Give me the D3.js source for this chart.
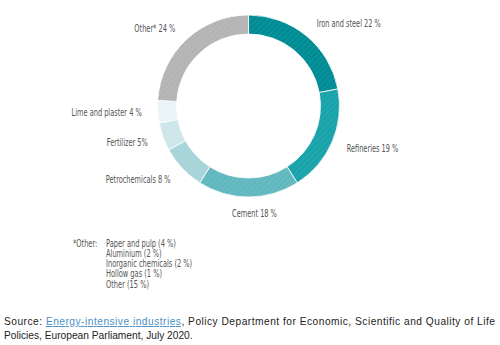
<!DOCTYPE html>
<html><head><meta charset="utf-8">
<script src="https://cdn.jsdelivr.net/npm/d3@7"></script>
<style>
html,body{margin:0;padding:0;background:#fff;}
svg{display:block;}
</style></head>
<body>
<svg id="c" width="500" height="345"></svg>
<script>
const categories = ["Iron and steel", "Refineries", "Cement", "Petrochemicals", "Fertilizer", "Lime and plaster", "Other*"];
const values = [22, 19, 18, 8, 5, 4, 24];
const labelTexts = ["Iron and steel 22 %", "Refineries 19 %", "Cement 18 %", "Petrochemicals 8 %", "Fertilizer 5%", "Lime and plaster 4 %", "Other* 24 %"];
const colors = ["#008c95", "#18a2aa", "#62b8bf", "#a7d4d8", "#cde6e9", "#e8f4f6", "#b4b4b4"];
const otherItems = ["Paper and pulp (4 %)", "Aluminium (2 %)", "Inorganic chemicals (2 %)", "Hollow gas (1 %)", "Other (15 %)"];

const svg = d3.select("#c");
const cx = 248.5, cy = 106, R = 91, r = 72;
const labelFont = "'DejaVu Sans Condensed','DejaVu Sans',sans-serif";
const sx = 0.70;

const defs = svg.append("defs");
const pat = defs.append("pattern").attr("id","hatch").attr("patternUnits","userSpaceOnUse")
  .attr("width",4).attr("height",4).attr("patternTransform","rotate(45)");
pat.append("line").attr("x1",0).attr("y1",0).attr("x2",0).attr("y2",4)
  .attr("stroke","#fff").attr("stroke-width",0.8).attr("stroke-opacity",0.18);

const pie = d3.pie().sort(null).value(d => d)(values);
const arc = d3.arc().innerRadius(r).outerRadius(R);
const g = svg.append("g").attr("transform", `translate(${cx},${cy})`);
g.selectAll("path.seg").data(pie).join("path").attr("class","seg")
  .attr("d", arc).attr("fill", (d,i) => colors[i])
  .attr("stroke","#fff").attr("stroke-width",0.8);
g.selectAll("path.hat").data(pie).join("path").attr("class","hat")
  .attr("d", arc).attr("fill","url(#hatch)");

const lr = 107;
pie.forEach((d,i) => {
  const a = (d.startAngle + d.endAngle)/2;
  const s = Math.sin(a), c = -Math.cos(a);
  const anchor = Math.abs(s) < 0.2 ? "middle" : (s > 0 ? "start" : "end");
  g.append("g").attr("transform", `translate(${lr*s + (anchor==="middle"?6:0)},${lr*c}) scale(${sx},1)`)
    .append("text").attr("dy","0.35em").attr("text-anchor", anchor)
    .attr("font-family", labelFont).attr("font-size", 10.5).attr("fill","#555")
    .text(labelTexts[i]);
});

// footnote
const fsx = 0.74;
const fn = svg.append("g").attr("font-family", labelFont).attr("font-size", 10).attr("fill","#555");
fn.append("g").attr("transform","translate(73,243) scale(" + fsx + ",1)")
  .append("text").attr("dy","0.35em").text("*Other:");
otherItems.forEach((d,i) => {
  fn.append("g").attr("transform", `translate(106,${243 + i*10.3}) scale(${fsx},1)`)
    .append("text").attr("dy","0.35em").text(d);
});

// source
const srcFont = "'Liberation Sans','Open Sans',sans-serif";
const t1 = svg.append("text").attr("x",4).attr("y",325).attr("font-family",srcFont).attr("font-size",10.2).attr("fill","#222")
  .attr("textLength",491).attr("lengthAdjust","spacing");
t1.append("tspan").text("Source: ");
t1.append("tspan").attr("fill","#4a8fc6").attr("text-decoration","underline").text("Energy-intensive industries");
t1.append("tspan").text(", Policy Department for Economic, Scientific and Quality of Life");
svg.append("text").attr("x",4).attr("y",339).attr("font-family",srcFont).attr("font-size",10.2).attr("fill","#222")
  .text("Policies, European Parliament, July 2020.");
</script>
</body></html>
